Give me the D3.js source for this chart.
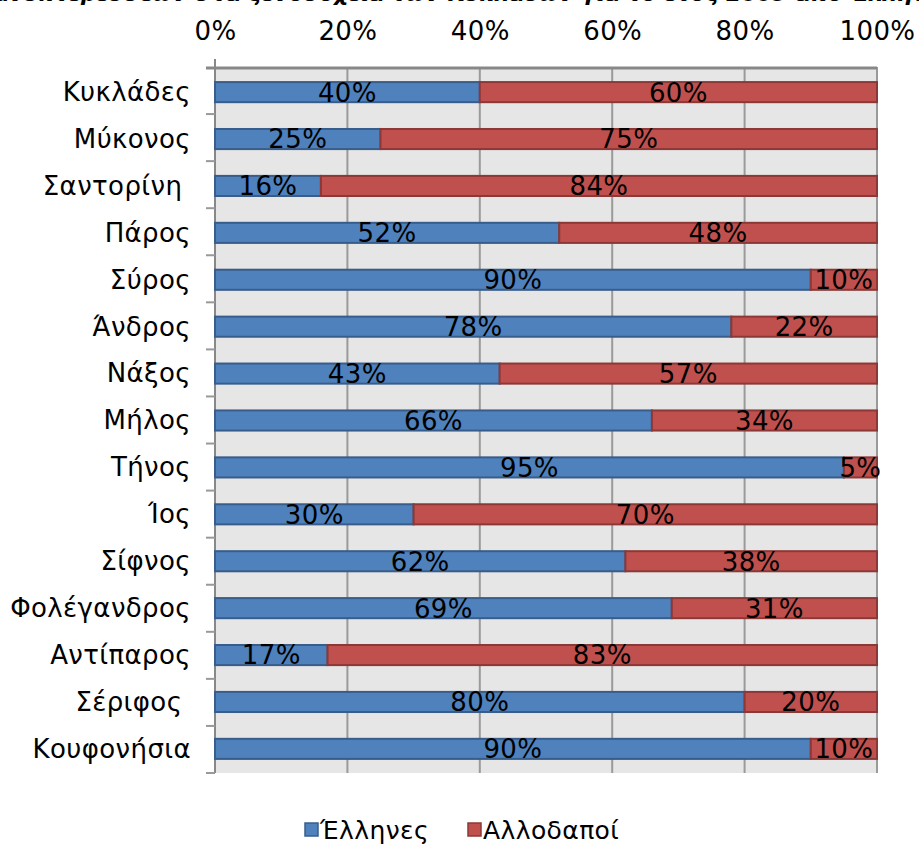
<!DOCTYPE html>
<html>
  <head>
    <meta charset="utf-8">
    <title>Κυκλάδες 2009</title>
    <style>
      body { margin: 0; background: #fff; }
      text { font-family: "DejaVu Sans", Verdana, sans-serif; }
    </style>
  </head>
  <body>
    <script src="https://cdn.jsdelivr.net/npm/d3@7"></script>
    <script>
      // δεδομένα
      var islands = ["Κυκλάδες", "Μύκονος", "Σαντορίνη ", "Πάρος", "Σύρος", "Άνδρος", "Νάξος", "Μήλος",
                     "Τήνος", "Ίος", "Σίφνος", "Φολέγανδρος", "Αντίπαρος", "Σέριφος ", "Κουφονήσια"];
      var greeks  = [40, 25, 16, 52, 90, 78, 43, 66, 95, 30, 62, 69, 17, 80, 90];
      var foreign = [60, 75, 84, 48, 10, 22, 57, 34, 5, 70, 38, 31, 83, 20, 10];
      var seriesNames = ["Έλληνες", "Αλλοδαποί"];
      var tickValues = [0, 20, 40, 60, 80, 100];

      var width = 919, height = 844;
      // όρια περιοχής σχεδίασης
      var pLeft = 215, pRight = 877, pTop = 67, pBottom = 773;

      var svg = d3.select("body").append("svg")
        .attr("width", width)
        .attr("height", height);

      // τίτλος (κομμένος στο πάνω μέρος)
      svg.append("text")
        .attr("x", -30)
        .attr("y", 1)
        .style("font-size", "22px")
        .style("font-weight", "bold")
        .style("font-style", "italic")
        .text("διανυκτερεύσεων στα ξενοδοχεία των Κυκλάδων για το έτος 2009 από Έλληνες");

      var x = d3.scaleLinear().domain([0, 100]).range([pLeft, pRight]);
      var y = d3.scaleBand().domain(islands).range([pTop, pBottom]).paddingInner(0.55).paddingOuter(0.3);
      var yOuter = d3.scaleBand().domain(islands).range([pTop, pBottom]);

      // φόντο περιοχής
      svg.append("rect")
        .attr("x", pLeft).attr("y", pTop)
        .attr("width", pRight - pLeft).attr("height", pBottom - pTop)
        .attr("fill", "#e6e6e6");

      // κάθετες γραμμές πλέγματος
      svg.append("g").selectAll("line")
        .data(tickValues.slice(1))
        .enter().append("line")
        .attr("x1", d => x(d)).attr("x2", d => x(d))
        .attr("y1", pTop).attr("y2", pBottom)
        .style("stroke", "#9a9a9a")
        .style("stroke-width", 2);

      // άξονας πάνω
      var xAxis = svg.append("g")
        .attr("transform", "translate(0," + pTop + ")")
        .call(d3.axisTop(x).tickValues(tickValues).tickFormat(d => d + "%").tickSize(0).tickPadding(27));
      xAxis.select(".domain").remove();
      xAxis.selectAll("text")
        .style("font-size", "26px")
        .style("letter-spacing", "0.4px")
        .style("font-family", "DejaVu Sans, sans-serif")
        .style("fill", "#000");

      svg.append("line")
        .attr("x1", pLeft - 9).attr("x2", pRight)
        .attr("y1", pTop + 1).attr("y2", pTop + 1)
        .style("stroke", "#888").style("stroke-width", 3);

      // άξονας αριστερά
      svg.append("line")
        .attr("x1", pLeft).attr("x2", pLeft)
        .attr("y1", pTop - 8).attr("y2", pBottom)
        .style("stroke", "#888").style("stroke-width", 2);

      svg.append("g").selectAll("line")
        .data(islands)
        .enter().append("line")
        .attr("x1", pLeft - 9).attr("x2", pLeft)
        .attr("y1", d => yOuter(d) + yOuter.bandwidth())
        .attr("y2", d => yOuter(d) + yOuter.bandwidth())
        .style("stroke", "#999").style("stroke-width", 2);

      svg.append("g").selectAll("text")
        .data(islands)
        .enter().append("text")
        .attr("x", 191)
        .attr("y", d => y(d) + y.bandwidth() / 2)
        .attr("dy", "0.36em")
        .attr("text-anchor", "end")
        .style("white-space", "pre")
        .style("font-size", "26px")
        .style("letter-spacing", "0.4px")
        .text(d => d);

      // στοιβαγμένες μπάρες
      var rows = islands.map((d, i) => ({ name: d, g: greeks[i], f: foreign[i] }));
      var stack = d3.stack().keys(["g", "f"])(rows);
      var fills = ["#4f81bd", "#c0504d"];
      var strokes = ["#385d8a", "#8c3836"];

      var layers = svg.append("g").selectAll("g")
        .data(stack)
        .enter().append("g");

      layers.selectAll("rect")
        .data((s, k) => s.map(p => ({ p: p, k: k })))
        .enter().append("rect")
        .attr("x", d => x(d.p[0]))
        .attr("y", d => y(d.p.data.name) + 1)
        .attr("width", d => x(d.p[1]) - x(d.p[0]))
        .attr("height", y.bandwidth() - 1)
        .attr("fill", d => fills[d.k])
        .attr("stroke", d => strokes[d.k])
        .attr("stroke-width", 2);

      layers.selectAll("text")
        .data((s, k) => s.map(p => ({ p: p, k: k })))
        .enter().append("text")
        .attr("x", d => (x(d.p[0]) + x(d.p[1])) / 2)
        .attr("y", d => y(d.p.data.name) + y.bandwidth() / 2)
        .attr("dy", "0.38em")
        .attr("text-anchor", "middle")
        .style("font-size", "26px")
        .style("letter-spacing", "0.4px")
        .text(d => (d.p[1] - d.p[0]) + "%");

      // υπόμνημα
      var legendX = [305, 468];
      var legend = svg.append("g").selectAll("g")
        .data(seriesNames)
        .enter().append("g")
        .attr("transform", (d, i) => "translate(" + legendX[i] + ",830)");
      legend.append("rect")
        .attr("x", 0).attr("y", -7)
        .attr("width", 13).attr("height", 13)
        .attr("fill", (d, i) => fills[i])
        .attr("stroke", (d, i) => strokes[i])
        .attr("stroke-width", 1.5);
      legend.append("text")
        .attr("x", 15)
        .attr("dy", "0.36em")
        .style("font-size", "25px")
        .style("letter-spacing", "0.4px")
        .text(d => d);
    </script>
  </body>
</html>
